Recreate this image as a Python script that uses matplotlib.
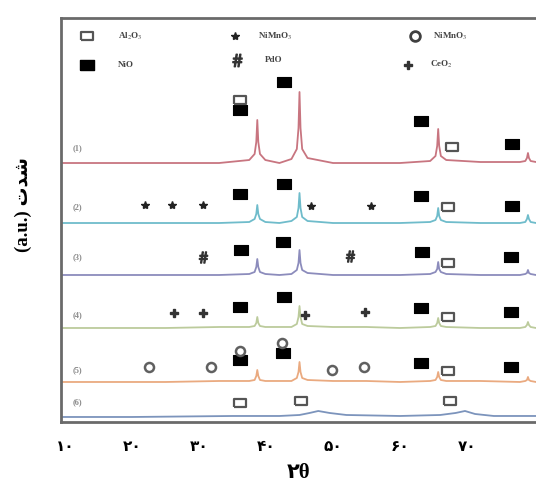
import matplotlib
matplotlib.use("Agg")
import matplotlib.pyplot as plt

plt.rcParams['mathtext.fontset'] = 'stix'

# ---------------- data ----------------
two_theta = [9.4, 25, 33, 37.5, 38.3, 38.55, 38.7, 38.85, 39.1, 39.9, 42,
             43.8, 44.6, 44.85, 45.0, 45.15, 45.4, 46.2, 50, 55, 60,
             64.5, 65.3, 65.55, 65.7, 65.85, 66.1, 66.9, 72,
             77.9, 78.7, 78.95, 79.1, 79.25, 79.5, 80.3]

trace1 = [259, 259, 259, 262, 268, 280, 302, 280, 268, 262, 259,
          263, 273, 294, 330, 294, 273, 264, 259, 259, 259,
          261, 266, 276, 293, 276, 266, 262, 260,
          260, 261, 264, 269, 264, 261, 260]
trace2 = [199, 199, 199, 200, 203, 208, 217, 208, 203, 200, 199,
          201, 205, 214, 229, 214, 205, 201, 199, 199, 199,
          200, 202, 206, 214, 206, 202, 200, 199,
          199, 200, 203, 207, 203, 200, 199]
trace3 = [147, 147, 147, 148, 150, 155, 163, 155, 150, 148, 147,
          148, 152, 159, 172, 159, 152, 149, 147, 147, 147,
          148, 150, 153, 160, 153, 150, 148, 147,
          147, 148, 149, 152, 149, 148, 147]
trace4 = [94, 94, 95, 95, 96, 99, 105, 99, 96, 95, 95,
          95, 98, 105, 116, 105, 98, 96, 95, 95, 94,
          95, 96, 99, 104, 99, 96, 95, 94,
          94, 95, 97, 100, 97, 95, 94]
trace5 = [40, 40, 41, 41, 42, 46, 52, 46, 42, 41, 41,
          41, 44, 50, 60, 50, 44, 42, 41, 41, 40,
          41, 42, 45, 50, 45, 42, 41, 41,
          40, 41, 42, 45, 42, 41, 40]
two_theta6 = [9.4, 20, 35, 42, 45, 46.5, 47.8, 49.5, 52, 60, 66, 68.3, 69.7, 71.2, 74, 80.3]
trace6 = [5, 5, 6, 6, 7, 9, 11, 9, 7, 6, 7, 9, 11, 8, 6, 6]

trace_colors = ['#c87580', '#6fbccb', '#8c8cbc', '#bccb9c', '#eaaa80', '#7c94bc']
trace_labels = ['(1)', '(2)', '(3)', '(4)', '(5)', '(6)']
label_x = 11.9
label_y = [274, 215, 165, 107, 52, 20]

# phase markers (2theta, offset intensity)
nio_x = [36.1, 42.7, 63.1, 76.7, 36.1, 42.7, 63.1, 76.7, 36.3, 42.6, 63.3, 76.5,
         36.1, 42.7, 63.2, 76.6, 36.1, 42.6, 63.2, 76.6]
nio_y = [312, 340, 301, 278, 228, 238, 226, 216, 172, 180, 170, 165,
         115, 125, 114, 110, 62, 69, 59, 55]
al2o3_x = [36.1, 67.8, 67.2, 67.2, 67.2, 67.2, 36.1, 45.2, 67.5]
al2o3_y = [322, 275, 215, 159, 105, 51, 19, 21, 21]
star_x = [21.9, 26.0, 30.6, 46.7, 55.7]
star_y = [217, 217, 217, 216, 216]
circ_x = [22.5, 31.8, 36.1, 42.4, 49.9, 54.6]
circ_y = [55, 55, 71, 79, 52, 55]
pdo_x = [30.6, 52.5]
pdo_y = [165, 166]
ceo2_x = [26.3, 30.6, 45.8, 54.8]
ceo2_y = [109, 109, 107, 110]

tick_vals = [10, 20, 30, 40, 50, 60, 70]
tick_text = ['۱۰', '۲۰', '۳۰', '۴۰', '۵۰', '۶۰', '۷۰']

legend_labels = [r'Al$_2$O$_3$', r'NiMnO$_3$', r'NiMnO$_3$', 'NiO', 'PdO', r'CeO$_2$']

# ---------------- figure ----------------
fig = plt.figure(figsize=(5.36, 4.87), dpi=100)
ax = fig.add_axes([0.1138, 0.1335, 0.8862, 0.8295])

for xs, ys, c in zip([two_theta] * 5 + [two_theta6],
                     [trace1, trace2, trace3, trace4, trace5, trace6],
                     trace_colors):
    ax.plot(xs, ys, color=c, lw=1.3, solid_joinstyle='round')

for lab, ly in zip(trace_labels, label_y):
    ax.text(label_x, ly, lab, fontsize=6, color='#8a8a8a', family='Liberation Serif',
            fontweight='bold', ha='center', va='center')

rect = [(-1.5, -1), (1.5, -1), (1.5, 1), (-1.5, 1), (-1.5, -1)]
ax.plot(nio_x, nio_y, ls='none', marker=rect, ms=10, mfc='black', mec='black', mew=0.8)
ax.plot(al2o3_x, al2o3_y, ls='none', marker=rect, ms=8.5, mfc='white', mec='#555555', mew=1.6)
ax.plot(star_x, star_y, ls='none', marker='*', ms=6, mfc='#222222', mec='#222222')
ax.plot(circ_x, circ_y, ls='none', marker='o', ms=6.5, mfc='white', mec='#606060', mew=1.8)
ax.plot(pdo_x, pdo_y, ls='none', marker=r'$\#$', ms=8, color='#333333')
ax.plot(ceo2_x, ceo2_y, ls='none', marker='P', ms=5.5, mfc='#333333', mec='#333333')

# legend drawn inside the frame
leg_mx = [0.055, 0.366, 0.745, 0.055, 0.371, 0.731]
leg_my = [0.955, 0.955, 0.955, 0.884, 0.896, 0.884]
leg_tx = [0.12, 0.415, 0.783, 0.12, 0.43, 0.777]
styles = [dict(marker=rect, ms=8.5, mfc='white', mec='#555555', mew=1.6),
          dict(marker='*', ms=6, mfc='#222222', mec='#222222'),
          dict(marker='o', ms=7, mfc='white', mec='#404040', mew=2),
          dict(marker=rect, ms=10, mfc='black', mec='black'),
          dict(marker=r'$\#$', ms=9, color='#333333'),
          dict(marker='P', ms=6, mfc='#333333', mec='#333333')]
for mx, my, tx, st, lab in zip(leg_mx, leg_my, leg_tx, styles, legend_labels):
    ax.plot([mx], [my], ls='none', transform=ax.transAxes, clip_on=False, **st)
    ax.text(tx, my, lab, transform=ax.transAxes, fontsize=6.5, family='Liberation Serif',
            fontweight='bold', color='#444444', va='center', ha='left')

ax.set_xlim(9.4, 80.3)
ax.set_ylim(0, 404)
ax.set_xticks(tick_vals)
ax.set_xticklabels(tick_text, family=['Liberation Serif', 'DejaVu Sans'],
                   fontsize=11, fontweight='bold')
ax.tick_params(axis='x', length=0, pad=14)
ax.set_yticks([])

for s in ['left', 'bottom', 'top']:
    ax.spines[s].set_color('#6a6a6a')
    ax.spines[s].set_linewidth(2)
ax.spines['right'].set_visible(False)

ax.set_xlabel('۲θ', family=['Liberation Serif', 'DejaVu Sans'], fontsize=15,
              fontweight='bold', labelpad=6)
ax.set_ylabel('(a.u.) ' + '\uFE95\uFEAA\uFEB7', family=['Liberation Serif', 'DejaVu Sans'],
              fontsize=13.5, fontweight='bold')
ax.yaxis.set_label_coords(-0.06, 0.537)

fig.savefig('out.png', dpi=100)
